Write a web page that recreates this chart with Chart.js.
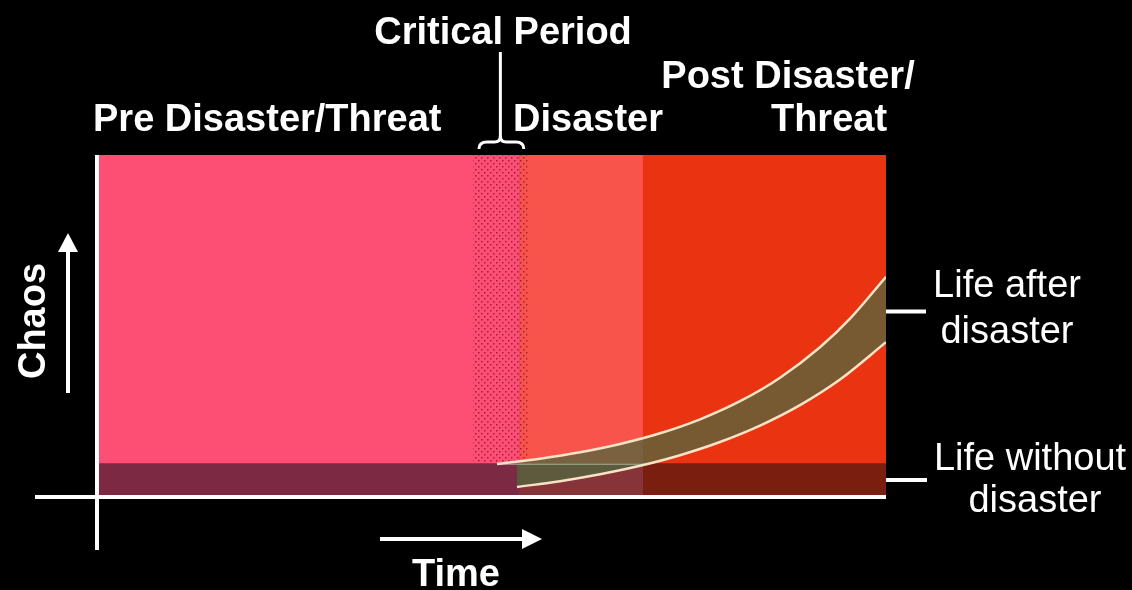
<!DOCTYPE html>
<html>
<head>
<meta charset="utf-8">
<style>
  html, body { margin: 0; padding: 0; background: #000; }
  #wrap { width: 1132px; height: 590px; }
</style>
<script src="https://cdn.jsdelivr.net/npm/chart.js@4.4.1/dist/chart.umd.min.js"></script>
</head>
<body>
<div id="wrap"><canvas id="c" width="1132" height="590"></canvas></div>
<script>
// ---- data ----
const phaseNames  = ['Pre Disaster/Threat', 'Disaster', 'Post Disaster/Threat'];
const phaseStart  = [0, 53.6, 69.2];
const phaseEnd    = [53.6, 69.2, 100];
const criticalPeriod = [47.65, 54.6];
const baselineLevel = 9.9;           // "Life without disaster" band top
const chartTop = 100;

const afterX   = [50.7, 56.15, 61.22, 66.29, 71.36, 76.43, 81.5, 86.57, 91.63, 95.44, 100];
const afterY   = [9.65, 11.2, 13.07, 15.5, 18.63, 22.72, 28.01, 34.88, 43.8, 52.16, 64.4];
const bandTopX = [53.23, 56.15, 61.22, 66.29, 71.36, 76.43, 81.5, 86.57, 91.63, 95.44, 100];
const bandTopY = [10.32, 11.2, 13.07, 15.5, 18.63, 22.72, 28.01, 34.88, 43.8, 52.16, 64.4];
const withoutX = [53.23, 58.68, 63.75, 68.82, 73.89, 78.96, 84.03, 89.1, 94.17, 100];
const withoutY = [2.92, 4.62, 6.64, 9.12, 12.22, 16.08, 20.88, 26.87, 34.36, 45.26];
const seamX    = [50.7, 69.6];

// ---- styles ----
const phaseColors = ['#FD4E74', '#F8544B', '#EA3311'];
const bandColors  = ['#7C2A44', '#86343A', '#7A1E10'];
const curveColor  = '#F7E3C6';
const ribbonColor = 'rgba(78, 104, 62, 0.74)';

function pts(xs, ys) { return xs.map((x, i) => ({ x: x, y: ys[i] })); }

function dotPattern() {
  const p = document.createElement('canvas');
  p.width = 6; p.height = 6;
  const g = p.getContext('2d');
  g.fillStyle = 'rgba(150, 20, 60, 0.85)';
  g.fillRect(1, 1, 1.5, 1.5);
  g.fillRect(4, 4, 1.5, 1.5);
  return g.createPattern(p, 'repeat');
}

const datasets = [];
phaseNames.forEach((name, i) => {
  datasets.push({
    label: name,
    data: [{ x: phaseStart[i], y: chartTop }, { x: phaseEnd[i], y: chartTop }],
    fill: 'origin', backgroundColor: phaseColors[i],
    borderWidth: 0, pointRadius: 0, order: 20 - i
  });
});
datasets.push({
  label: 'Critical Period',
  data: [{ x: criticalPeriod[0], y: chartTop }, { x: criticalPeriod[1], y: chartTop }],
  fill: { value: baselineLevel }, backgroundColor: dotPattern(),
  borderWidth: 0, pointRadius: 0, order: 15
});
phaseNames.forEach((name, i) => {
  datasets.push({
    label: 'Life without disaster ' + i,
    data: [{ x: phaseStart[i], y: baselineLevel }, { x: phaseEnd[i], y: baselineLevel }],
    fill: 'origin', backgroundColor: bandColors[i],
    borderWidth: 0, pointRadius: 0, order: 12 - i
  });
});
datasets.push({
  label: 'ribbon',
  data: pts(bandTopX, bandTopY),
  fill: '+1', backgroundColor: ribbonColor,
  borderWidth: 0, pointRadius: 0, cubicInterpolationMode: 'monotone', order: 5
});
datasets.push({
  label: 'lower',
  data: pts(withoutX, withoutY),
  fill: false, borderColor: curveColor, borderWidth: 2.5,
  pointRadius: 0, cubicInterpolationMode: 'monotone', order: 3
});
datasets.push({
  label: 'Life after disaster',
  data: pts(afterX, afterY),
  fill: false, borderColor: curveColor, borderWidth: 2.5,
  pointRadius: 0, cubicInterpolationMode: 'monotone', order: 2
});
datasets.push({
  label: 'seam',
  data: [{ x: seamX[0], y: baselineLevel - 0.3 }, { x: seamX[1], y: baselineLevel - 0.3 }],
  fill: false, borderColor: 'rgba(190, 205, 180, 0.55)', borderWidth: 1.5,
  pointRadius: 0, order: 4
});

const deco = {
  id: 'deco',
  afterDraw(chart) {
    const ctx = chart.ctx;
    const xs = chart.scales.x, ys = chart.scales.y;
    const L = xs.left, R = xs.right, T = ys.top, B = ys.getPixelForValue(0);
    ctx.save();
    ctx.strokeStyle = '#fff';
    ctx.fillStyle = '#fff';
    ctx.lineCap = 'butt';
    ctx.lineWidth = 4;
    ctx.beginPath();
    ctx.moveTo(35, B); ctx.lineTo(R, B);
    ctx.moveTo(L, T); ctx.lineTo(L, 550);
    ctx.stroke();
    const yA = ys.getPixelForValue((afterY[afterY.length - 1] + withoutY[withoutY.length - 1]) / 2) + 2;
    const yB = ys.getPixelForValue(baselineLevel / 2);
    ctx.beginPath();
    ctx.moveTo(R, yA); ctx.lineTo(R + 40, yA);
    ctx.moveTo(R, yB); ctx.lineTo(R + 41, yB);
    ctx.stroke();
    ctx.beginPath();
    ctx.moveTo(68, 393); ctx.lineTo(68, 248); ctx.stroke();
    ctx.beginPath();
    ctx.moveTo(68, 233); ctx.lineTo(78, 252); ctx.lineTo(58, 252); ctx.closePath(); ctx.fill();
    ctx.beginPath();
    ctx.moveTo(380, 539); ctx.lineTo(525, 539); ctx.stroke();
    ctx.beginPath();
    ctx.moveTo(542, 539); ctx.lineTo(522, 529); ctx.lineTo(522, 549); ctx.closePath(); ctx.fill();
    const cx = xs.getPixelForValue((criticalPeriod[0] + criticalPeriod[1]) / 2);
    const bl = xs.getPixelForValue(criticalPeriod[0]) + 6, br = xs.getPixelForValue(criticalPeriod[1]) - 4;
    ctx.lineWidth = 3;
    ctx.beginPath();
    ctx.moveTo(cx, 52); ctx.lineTo(cx, 137);
    ctx.stroke();
    ctx.beginPath();
    ctx.moveTo(bl, 149);
    ctx.quadraticCurveTo(bl, 142, bl + 8, 142);
    ctx.lineTo(cx - 6, 142);
    ctx.quadraticCurveTo(cx, 142, cx, 136);
    ctx.quadraticCurveTo(cx, 142, cx + 6, 142);
    ctx.lineTo(br - 8, 142);
    ctx.quadraticCurveTo(br, 142, br, 149);
    ctx.stroke();
    ctx.fillStyle = '#fff';
    ctx.textBaseline = 'alphabetic';
    ctx.font = 'bold 38px "Liberation Sans", Arial, sans-serif';
    ctx.textAlign = 'center';
    ctx.fillText('Critical Period', 503, 44);
    ctx.fillText('Post Disaster/', 788, 88);
    ctx.fillText('Threat', 829, 131);
    ctx.fillText('Time', 456, 586);
    ctx.textAlign = 'left';
    ctx.fillText('Pre Disaster/Threat', 93, 131);
    ctx.fillText('Disaster', 513, 131);
    ctx.save();
    ctx.translate(35, 321);
    ctx.rotate(-Math.PI / 2);
    ctx.textAlign = 'center';
    ctx.textBaseline = 'middle';
    ctx.fillText('Chaos', 0, 0);
    ctx.restore();
    ctx.font = '38px "Liberation Sans", Arial, sans-serif';
    ctx.textAlign = 'center';
    ctx.fillText('Life after', 1007, 297);
    ctx.fillText('disaster', 1007, 343);
    ctx.fillText('Life without', 1030, 470);
    ctx.fillText('disaster', 1035, 512);
    ctx.restore();
  }
};

new Chart(document.getElementById('c'), {
  type: 'line',
  data: { datasets: datasets },
  options: {
    responsive: false,
    animation: false,
    events: [],
    layout: { padding: { left: 97, right: 246, top: 155, bottom: 93 } },
    scales: {
      x: { type: 'linear', min: 0, max: 100, display: false },
      y: { type: 'linear', min: 0, max: 100, display: false }
    },
    plugins: { legend: { display: false }, tooltip: { enabled: false }, title: { display: false } }
  },
  plugins: [deco]
});
</script>
</body>
</html>
